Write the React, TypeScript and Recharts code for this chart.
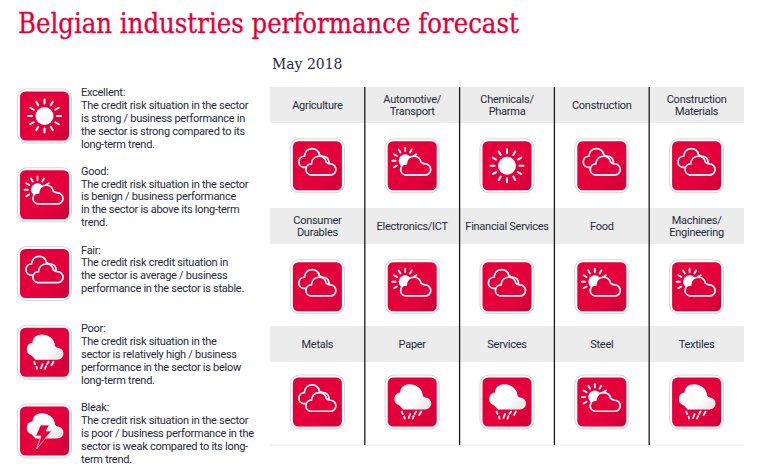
import { ScatterChart, Scatter, XAxis, YAxis, ReferenceArea, ReferenceLine } from 'recharts';

type Rating = 'Excellent' | 'Good' | 'Fair' | 'Poor' | 'Bleak';

const title = 'Belgian industries performance forecast';
const period = 'May 2018';

const sectorNames = [
    ['Agriculture'], ['Automotive/', 'Transport'], ['Chemicals/', 'Pharma'], ['Construction'], ['Construction', 'Materials'],
    ['Consumer', 'Durables'], ['Electronics/ICT'], ['Financial Services'], ['Food'], ['Machines/', 'Engineering'],
    ['Metals'], ['Paper'], ['Services'], ['Steel'], ['Textiles'],
];
const sectorRatings: Rating[] = [
    'Fair', 'Good', 'Excellent', 'Fair', 'Fair',
    'Fair', 'Good', 'Fair', 'Good', 'Good',
    'Fair', 'Poor', 'Poor', 'Good', 'Poor',
];

const legendRatings: Rating[] = ['Excellent', 'Good', 'Fair', 'Poor', 'Bleak'];
const legendTexts = [
    ['The credit risk situation in the sector', 'is strong / business performance in', 'the sector is strong compared to its', 'long-term trend.'],
    ['The credit risk situation in the sector', 'is benign / business performance', 'in the sector is above its long-term', 'trend.'],
    ['The credit risk credit situation in', 'the sector is average / business', 'performance in the sector is stable.'],
    ['The credit risk situation in the', 'sector is relatively high / business', 'performance in the sector is below', 'long-term trend.'],
    ['The credit risk situation in the sector', 'is poor / business performance in the', 'sector is weak compared to its long-', 'term trend.'],
];

const COLUMNS = 5;
// the three rows are not quite the same height in the original
const rowStart = [0, 1.014, 2.003];
const iconOffset = [0.66, 0.66, 0.637];
const HEADER_H = 0.302;

const RED = '#e4003a';
const TEXT = '#1f2a3c';
const FONT = 'Roboto, sans-serif';
const SPACING = -0.27;

const sectorData = sectorRatings.map((rating, i) => {
    const row = Math.floor(i / COLUMNS);
    return { x: (i % COLUMNS) + 0.5, y: rowStart[row] + iconOffset[row], rating };
});
const headerData = sectorNames.map((lines, i) => {
    const row = Math.floor(i / COLUMNS);
    return { x: (i % COLUMNS) + 0.5, y: rowStart[row] + HEADER_H / 2, lines };
});
const legendData = legendRatings.map((rating, i) => ({ x: 0, y: i, rating, lines: legendTexts[i] }));

const rays = (cx: number, cy: number, r1: number, r2: number, angles: number[], w: number) =>
    angles.map((a) => {
        const t = (a * Math.PI) / 180;
        return (
            <line
                key={a}
                x1={cx + r1 * Math.cos(t)}
                y1={cy + r1 * Math.sin(t)}
                x2={cx + r2 * Math.cos(t)}
                y2={cy + r2 * Math.sin(t)}
                stroke="#fff"
                strokeWidth={w}
                strokeLinecap="round"
            />
        );
    });

const CLOUD = 'M-7 9.2H13A5.5 5.5 0 0 0 13 -1.8Q10.5 -2 8.8 -3.6C8.5 -11 -5 -12.5 -6 -1.9A5.6 5.6 0 0 0 -7 9.2Z';
const BIG_CLOUD = 'M-9 7.5H13A6 6 0 0 0 13 -4.5Q11 -5 10.5 -6.5C10 -20 -12 -22 -12 -9.5A6.5 6.5 0 0 0 -13 3.2Z';

const Weather = ({ rating }: { rating: Rating }) => {
    if (rating === 'Excellent') {
        return (
            <g>
                <circle cx={0} cy={0} r={9} fill="#fff" />
                {rays(0, 0, 12.5, 16.5, [0, 30, 60, 90, 120, 150, 180, 210, 240, 270, 300, 330], 2)}
            </g>
        );
    }
    if (rating === 'Good') {
        return (
            <g>
                <circle cx={-7} cy={-5} r={6.5} fill="#fff" />
                {rays(-7, -5, 9.5, 13, [150, 180, 210, 240, 270, 300, 330], 1.8)}
                <path d={CLOUD} fill={RED} stroke="#fff" strokeWidth={1.7} />
            </g>
        );
    }
    if (rating === 'Fair') {
        return (
            <g>
                <path d={CLOUD} transform="translate(-7 -7.6)" fill="none" stroke="#fff" strokeWidth={1.7} />
                <path d={CLOUD} fill={RED} stroke="#fff" strokeWidth={1.7} />
            </g>
        );
    }
    if (rating === 'Poor') {
        return (
            <g>
                <path d={BIG_CLOUD} fill="url(#cloudShade)" />
                <g stroke="#fff" strokeWidth={1.8} strokeLinecap="round">
                    <line x1={-10.5} y1={9.5} x2={-9.5} y2={12} />
                    <line x1={-8} y1={14.5} x2={-7.5} y2={16.5} />
                    <line x1={-2} y1={12} x2={-3.5} y2={16} />
                    <line x1={4} y1={9.5} x2={2.5} y2={12} />
                    <line x1={1.5} y1={14} x2={0.5} y2={16.5} />
                    <line x1={9} y1={9.5} x2={7} y2={13} />
                </g>
            </g>
        );
    }
    return (
        <g>
            <path d={BIG_CLOUD} fill="url(#cloudShade)" />
            <path d="M-4 -6H5L1.5 0H7L-8 18L-3.5 5H-9Z" fill={RED} stroke="#fff" strokeWidth={0.7} />
        </g>
    );
};

// rounded tile with the grey rim, drawn around a weather glyph
const Tile = ({ cx, cy, rating }: { cx: number; cy: number; rating: Rating }) => (
    <g transform={`translate(${cx} ${cy})`}>
        <rect x={-27} y={-27} width={54} height={54} rx={9} fill="#fff" stroke="#d6d6d6" strokeWidth={1} />
        <rect x={-24.5} y={-24.5} width={49} height={49} rx={5.5} fill="url(#tileShade)" />
        <Weather rating={rating} />
    </g>
);

const LegendItem = (props: any) => {
    const { cx, cy, payload } = props;
    return (
        <g letterSpacing={SPACING}>
            <Tile cx={cx} cy={cy} rating={payload.rating} />
            <text x={cx + 36.5} y={cy - 20} fontFamily={FONT} fontSize={11} fill={TEXT}>
                {payload.rating}:
            </text>
            {payload.lines.map((line: string, i: number) => (
                <text key={i} x={cx + 36.5} y={cy - 7.2 + i * 12.9} fontFamily={FONT} fontSize={11} fill={TEXT}>
                    {line}
                </text>
            ))}
        </g>
    );
};

const HeaderLabel = (props: any) => {
    const { cx, cy, payload } = props;
    const lines: string[] = payload.lines;
    return (
        <text textAnchor="middle" fontFamily={FONT} fontSize={11} letterSpacing={SPACING} fill={TEXT}>
            {lines.map((line, i) => (
                <tspan key={i} x={cx} y={cy + 4 + (i - (lines.length - 1) / 2) * 12.5}>
                    {line}
                </tspan>
            ))}
        </text>
    );
};

const SectorIcon = (props: any) => <Tile cx={props.cx} cy={props.cy} rating={props.payload.rating} />;

const App = () => (
    <div style={{ position: 'absolute', left: 0, top: 0, width: 774, height: 466, background: '#fff' }}>
        <svg width={0} height={0} style={{ position: 'absolute' }}>
            <defs>
                <linearGradient id="tileShade" x1="0.3" y1="0.3" x2="1" y2="1">
                    <stop offset="0.55" stopColor={RED} />
                    <stop offset="1" stopColor="#cc0038" />
                </linearGradient>
                <linearGradient id="cloudShade" x1="0.3" y1="0.4" x2="1" y2="0.9">
                    <stop offset="0.4" stopColor="#fff" />
                    <stop offset="1" stopColor="#e2e2e2" />
                </linearGradient>
            </defs>
        </svg>
        <div style={{ position: 'absolute', left: 18, top: 8, color: RED, fontFamily: '"DejaVu Serif Condensed", serif', fontSize: 27.2, WebkitTextStroke: '0.3px', whiteSpace: 'nowrap' }}>
            {title}
        </div>
        <div style={{ position: 'absolute', left: 272, top: 55, color: TEXT, fontFamily: '"DejaVu Serif Condensed", serif', fontSize: 15.5, whiteSpace: 'nowrap' }}>
            {period}
        </div>

        <div style={{ position: 'absolute', left: 0, top: 0 }}>
            <ScatterChart width={262} height={466} margin={{ top: 116, bottom: 35, left: 44.5, right: 44.5 }}>
                <XAxis type="number" dataKey="x" domain={[0, 1]} hide />
                <YAxis type="number" dataKey="y" domain={[0, 4]} reversed hide />
                <Scatter data={legendData} shape={LegendItem} isAnimationActive={false} />
            </ScatterChart>
        </div>

        <div style={{ position: 'absolute', left: 262, top: 0 }}>
            <ScatterChart width={512} height={466} margin={{ top: 87, bottom: 21, left: 8, right: 30 }}>
                <XAxis type="number" dataKey="x" domain={[0, COLUMNS]} hide />
                <YAxis type="number" dataKey="y" domain={[0, 3]} reversed hide />
                {rowStart.map((start) => (
                    <ReferenceArea key={start} y1={start} y2={start + HEADER_H} fill="#ececec" fillOpacity={1} stroke="none" />
                ))}
                <ReferenceLine y={3} stroke="#e8e8e8" strokeWidth={1} />
                {[1, 2, 3, 4].map((x) => (
                    <ReferenceLine key={x} x={x} stroke="#1a1a1a" strokeWidth={1.3} />
                ))}
                <Scatter data={headerData} shape={HeaderLabel} isAnimationActive={false} />
                <Scatter data={sectorData} shape={SectorIcon} isAnimationActive={false} />
            </ScatterChart>
        </div>
    </div>
);

export default App;
